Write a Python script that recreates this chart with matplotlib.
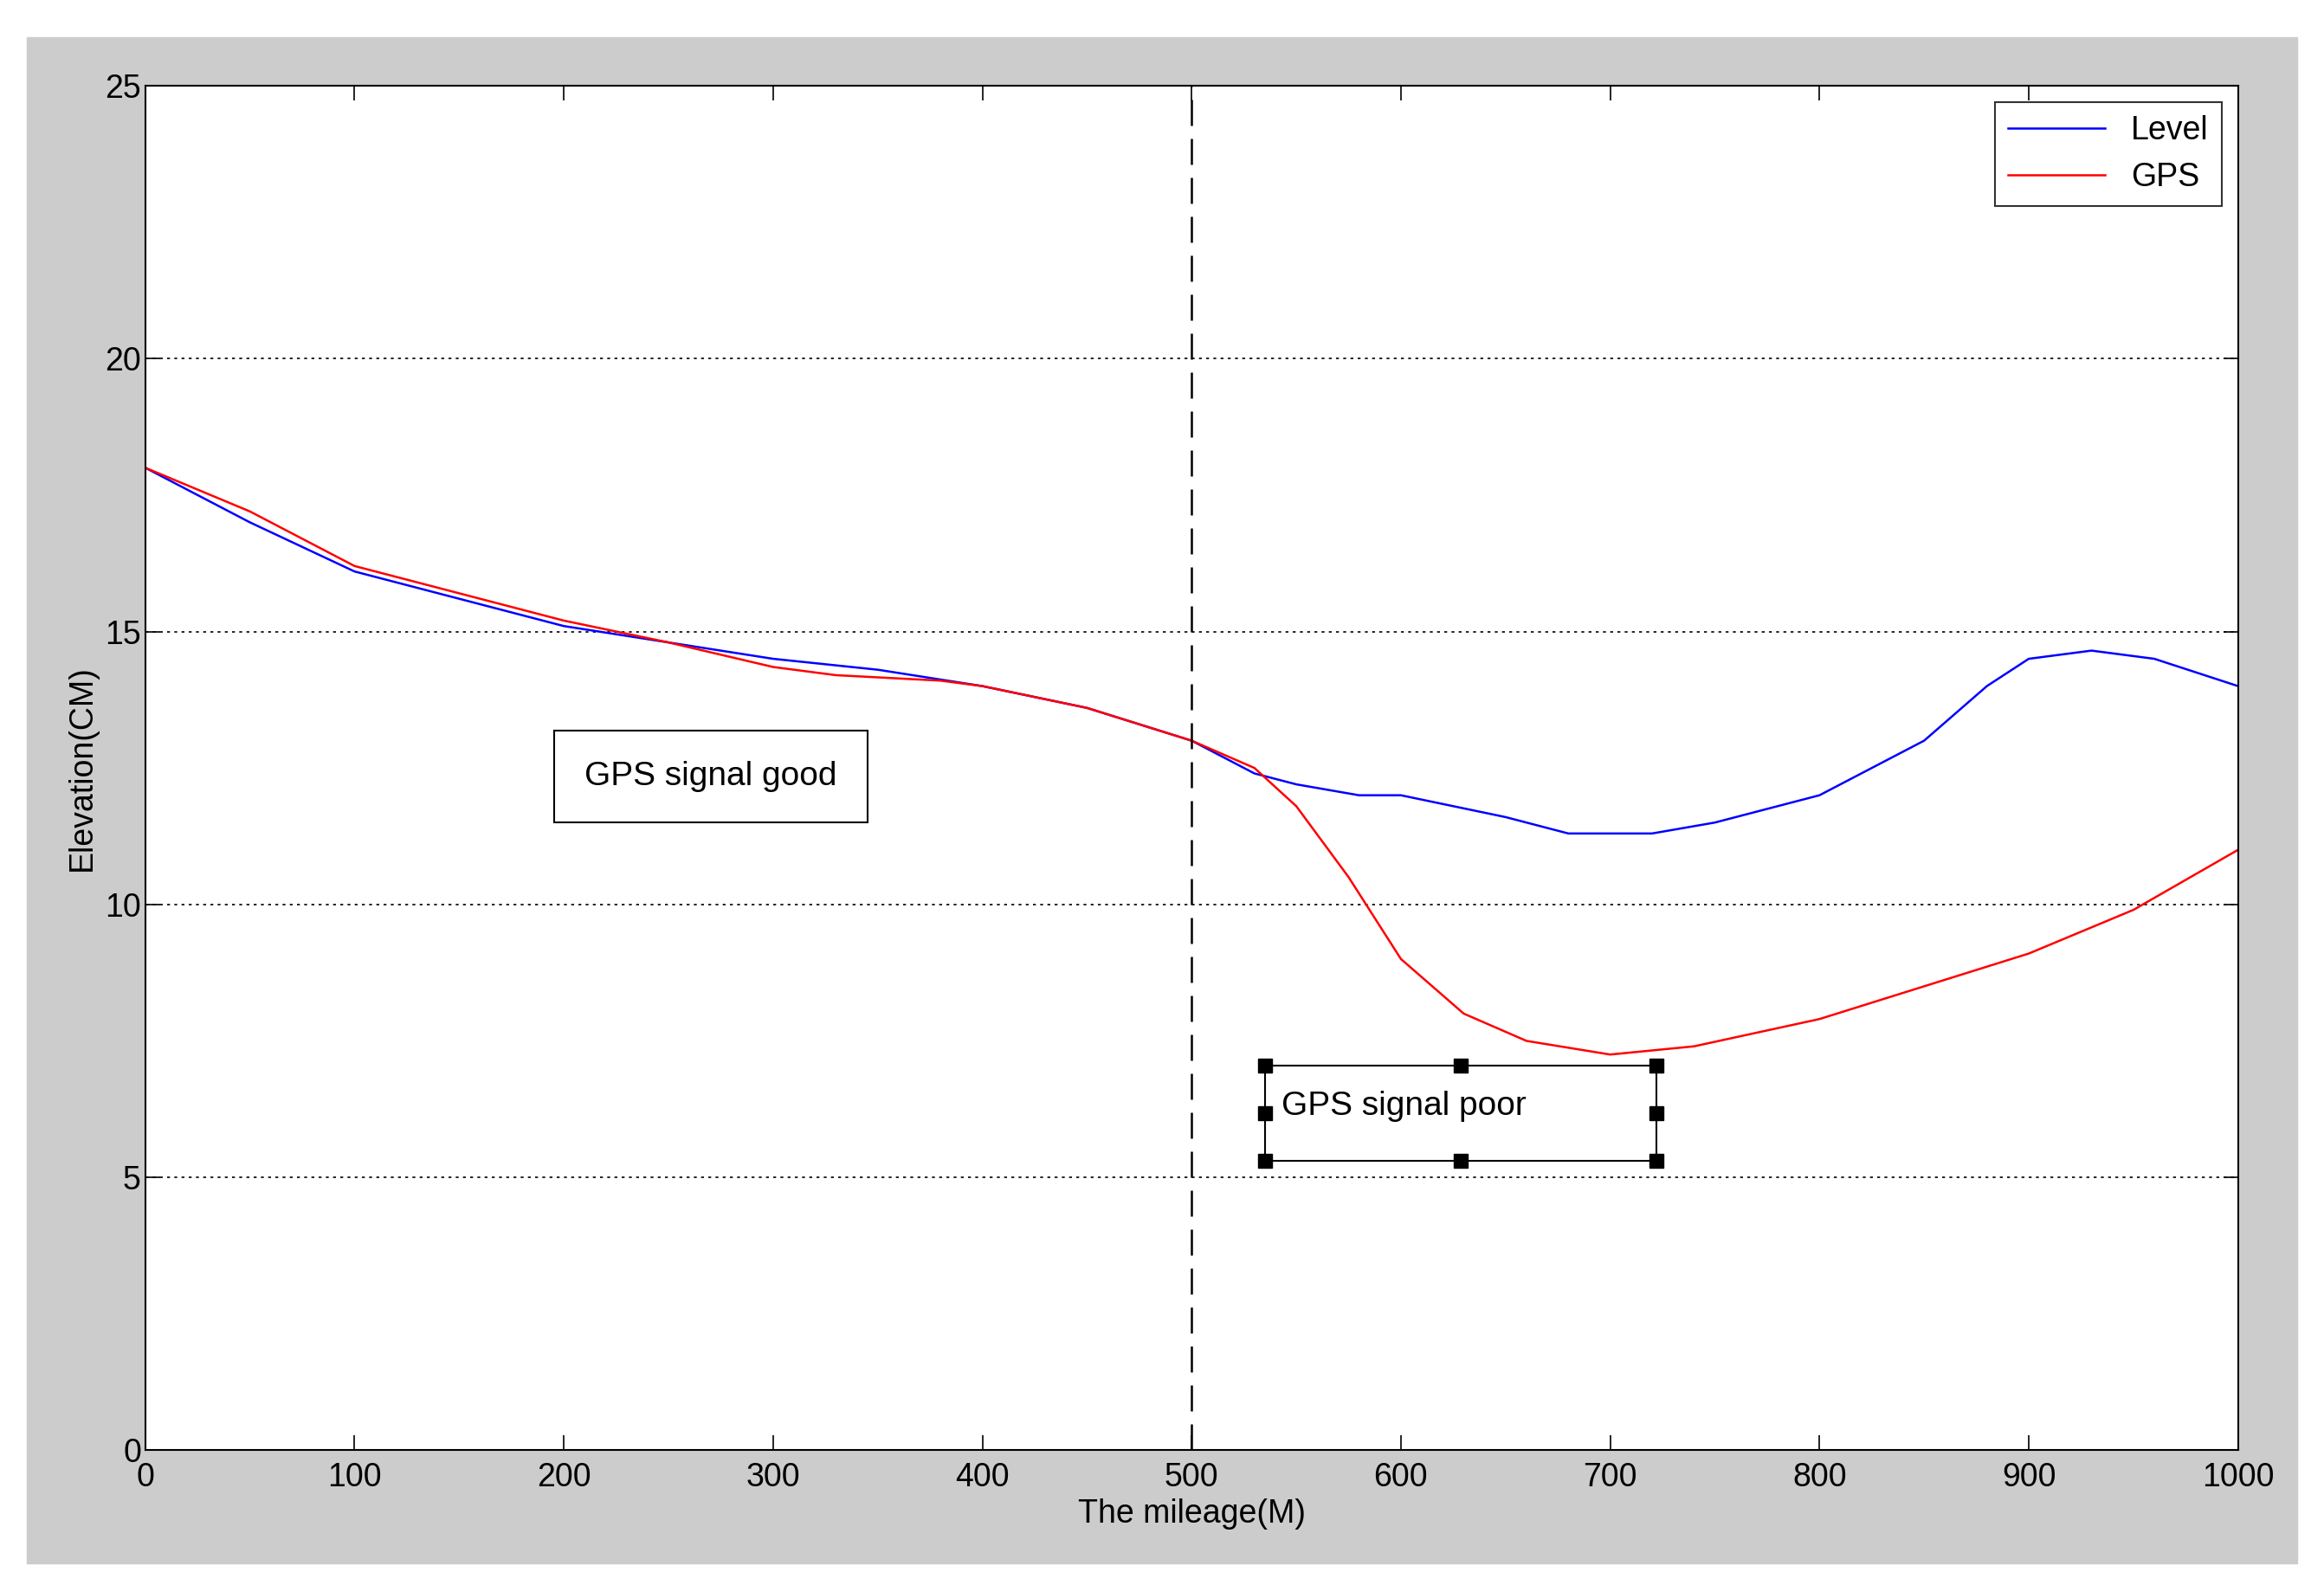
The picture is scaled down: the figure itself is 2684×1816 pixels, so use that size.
import matplotlib.pyplot as plt
from matplotlib.patches import Rectangle

plt.rcParams['font.family'] = ['Liberation Sans', 'DejaVu Sans']

level_x = [0, 50, 100, 150, 200, 250, 300, 350, 400, 450, 500, 530, 550, 580, 600,
           650, 680, 720, 750, 800, 850, 880, 900, 930, 960, 1000]
level_y = [18.0, 17.0, 16.1, 15.6, 15.1, 14.8, 14.5, 14.3, 14.0, 13.6, 13.0, 12.4, 12.2,
           12.0, 12.0, 11.6, 11.3, 11.3, 11.5, 12.0, 13.0, 14.0, 14.5, 14.65, 14.5, 14.0]
gps_x = [0, 50, 100, 150, 200, 250, 300, 330, 380, 400, 450, 500, 530, 550, 575, 600,
         630, 660, 700, 740, 800, 850, 900, 950, 1000]
gps_y = [18.0, 17.2, 16.2, 15.7, 15.2, 14.8, 14.35, 14.2, 14.1, 14.0, 13.6, 13.0, 12.5,
         11.8, 10.5, 9.0, 8.0, 7.5, 7.25, 7.4, 7.9, 8.5, 9.1, 9.9, 11.0]

fig = plt.figure(figsize=(26.84, 18.16), dpi=100)
fig.patches.append(Rectangle((18/1568, 1-1040/1046), (1550-18)/1568, (1040-25)/1046,
                             transform=fig.transFigure, color='#cccccc', zorder=-10))
ax = fig.add_axes([98/1568, 1-965/1046, (1510-98)/1568, (965-57)/1046])

ax.plot(level_x, level_y, color='blue', lw=1.8, label='Level')
ax.plot(gps_x, gps_y, color='red', lw=1.8, label='GPS')
ax.axvline(500, color='black', ls=(0, (12, 6)), lw=1.8)
for y in [5, 10, 15, 20]:
    ax.axhline(y, color='black', ls=(0, (2, 3)), lw=1.2, zorder=0)

ax.set_xlim(0, 1000)
ax.set_ylim(0, 25)
ax.set_xticks(range(0, 1001, 100))
ax.set_yticks(range(0, 26, 5))
ax.tick_params(direction='in', top=True, right=True, labelsize=27, length=12, width=1.2)
ax.tick_params(axis='x', pad=10)
ax.set_xlabel('The mileage(M)', fontsize=27, labelpad=4)
ax.set_ylabel('Elevation(CM)', fontsize=27, labelpad=6)

ax.text(210, 12.35, 'GPS signal good', fontsize=28, va='center',
        bbox=dict(boxstyle='square,pad=0.9', fc='white', ec='black', lw=1.5))
ax.text(543, 6.3, 'GPS signal poor', fontsize=28, va='center')
ax.add_patch(Rectangle((535, 5.3), 187, 1.75, fill=False, ec='black', lw=1.5))
for px in [535, 628.5, 722]:
    for py in [5.3, 7.05]:
        ax.plot(px, py, 's', color='black', ms=12)
for px in [535, 722]:
    ax.plot(px, 6.175, 's', color='black', ms=12)

leg = ax.legend(loc='upper right', fontsize=27, fancybox=False, edgecolor='black',
                handlelength=3, borderpad=0.4)
leg.get_frame().set_linewidth(1.5)
for s in ax.spines.values():
    s.set_linewidth(1.5)

fig.savefig('out.png', dpi=100)
plt.close()
